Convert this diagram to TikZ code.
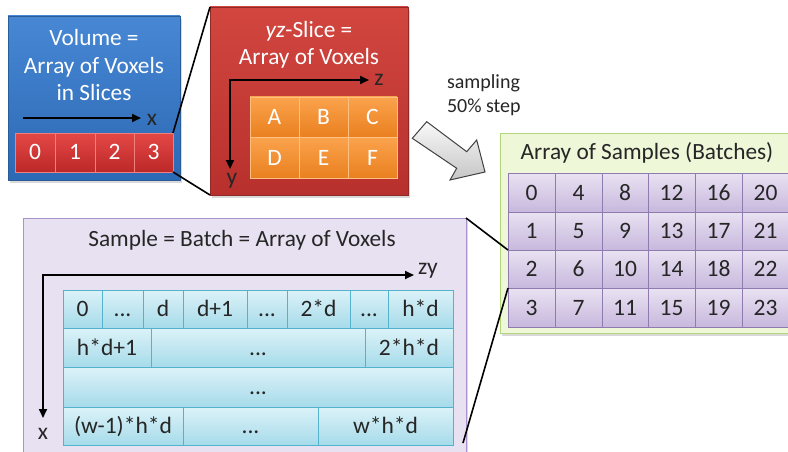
\documentclass[tikz,border=0pt]{standalone}
\usepackage{fontspec}
\setmainfont{Carlito}
\usetikzlibrary{arrows.meta,shadows}
\definecolor{volTop}{HTML}{4787D4}
\definecolor{volBot}{HTML}{2C69B4}
\definecolor{volLine}{HTML}{2A5C98}
\definecolor{redTop}{HTML}{D2463F}
\definecolor{redBot}{HTML}{B8302D}
\definecolor{redLine}{HTML}{8E2B29}
\definecolor{rcTop}{HTML}{E44846}
\definecolor{rcBot}{HTML}{BC2828}
\definecolor{rcLine}{HTML}{F08080}
\definecolor{orTop}{HTML}{FBA34D}
\definecolor{orBot}{HTML}{E9801F}
\definecolor{orLine}{HTML}{FFC080}
\definecolor{grFill}{HTML}{EEF7D8}
\definecolor{grLine}{HTML}{B4D67A}
\definecolor{puTop}{HTML}{E9E2F2}
\definecolor{puBot}{HTML}{C7B8DD}
\definecolor{puLine}{HTML}{8F7BB0}
\definecolor{baFill}{HTML}{E8E1F1}
\definecolor{baLine}{HTML}{A894C8}
\definecolor{cyTop}{HTML}{DCF2F8}
\definecolor{cyBot}{HTML}{A6DBEA}
\definecolor{cyLine}{HTML}{55B2CC}
\newcommand{\bigtxt}{\fontsize{23.3}{27.5}\selectfont}
\newcommand{\celltxt}{\fontsize{23.5}{26}\selectfont}
\newcommand{\cellbox}[7]{\node[#7, minimum width=#4pt-#2pt, minimum height=#5pt-#3pt, anchor=north west] (#1) at (#2,#3) {#6};}
\tikzset{
  every node/.style={inner sep=0pt, outer sep=0pt},
  shad/.style={drop shadow={shadow xshift=2pt,shadow yshift=-3pt,opacity=0.3}},
  volbox/.style={draw=volLine, line width=0.6pt, top color=volTop, bottom color=volBot, shad},
  slicebox/.style={draw=redLine, line width=0.6pt, top color=redTop, bottom color=redBot, shad},
  greenbox/.style={draw=grLine, line width=1pt, fill=grFill, shad},
  batchbox/.style={draw=baLine, line width=1pt, fill=baFill, shad},
  cellbase/.style={font=\celltxt, text height=15pt, text depth=0pt},
  redcell/.style={cellbase, draw=rcLine, line width=0.5pt, top color=rcTop, bottom color=rcBot, text=white},
  orcell/.style={cellbase, draw=orLine, line width=0.5pt, top color=orTop, bottom color=orBot, text=white},
  purcell/.style={cellbase, draw=puLine, line width=0.6pt, top color=puTop, bottom color=puBot, text=black!85},
  cycell/.style={cellbase, draw=cyLine, line width=0.6pt, top color=cyTop, bottom color=cyBot, text=black!85},
  wtxt/.style={text=white, font=\bigtxt, align=center},
  btxt/.style={text=black!85, font=\bigtxt, align=center},
  axlbl/.style={text=black!85, font=\celltxt},
  axis/.style={line width=1.8pt, black},
  conn/.style={line width=1.6pt, black},
  bigarrow/.style={draw=black!75, line width=1pt, top color=gray!5, bottom color=gray!45}
}
\begin{document}
\begin{tikzpicture}[x=1pt,y=-1pt]
\useasboundingbox (0,0) rectangle (788,452);

% ---------- Volume box ----------
\node[volbox, minimum width=172pt, minimum height=164pt, anchor=north west] (vol) at (8,16) {};
\node[wtxt] (voltitle) at (94,65) {Volume =\\Array of Voxels\\in Slices};
\coordinate (xa) at (23,118);
\coordinate (xb) at (141,118);
\draw[axis, -{Triangle[length=9pt,width=8pt]}] (xa) -- (xb);
\node[axlbl] (xlbl) at (152,120) {x};
\cellbox{c0}{15}{133}{55}{172}{0}{redcell}
\cellbox{c1}{55}{133}{95}{172}{1}{redcell}
\cellbox{c2}{95}{133}{134}{172}{2}{redcell}
\cellbox{c3}{134}{133}{173}{172}{3}{redcell}

% ---------- yz-Slice box ----------
\node[slicebox, minimum width=198pt, minimum height=188pt, anchor=north west] (yz) at (210,7) {};
\node[wtxt] (yztitle) at (309,45) {\textit{yz}-Slice =\\Array of Voxels};
\coordinate (yzo) at (230,80);
\coordinate (zend) at (369,80);
\coordinate (yend) at (230,169);
\draw[axis, {Triangle[length=9pt,width=8pt]}-{Triangle[length=9pt,width=8pt]}] (zend) -- (yzo) -- (yend);
\node[axlbl] (zlbl) at (379,80) {z};
\node[axlbl] (ylbl) at (232,181) {y};
\cellbox{oA}{250}{97}{299}{137}{A}{orcell}
\cellbox{oB}{299}{97}{348}{137}{B}{orcell}
\cellbox{oC}{348}{97}{397}{137}{C}{orcell}
\cellbox{oD}{250}{137}{299}{178}{D}{orcell}
\cellbox{oE}{299}{137}{348}{178}{E}{orcell}
\cellbox{oF}{348}{137}{397}{178}{F}{orcell}

% ---------- sampling arrow ----------
\node[text=black!85, font=\fontsize{20}{24}\selectfont, align=left, anchor=west] (samp) at (447,95) {sampling\\50\% step};
\path[bigarrow] (426.7,121.7) -- (466.7,151.7) -- (476.7,140) -- (485,172) -- (450,180) -- (456.7,168.3) -- (412.3,138.3) -- cycle;

% ---------- Array of Samples ----------
\node[greenbox, minimum width=300pt, minimum height=200pt, anchor=north west] (samples) at (500,133) {};
\node[btxt] (samptitle) at (647,153) {Array of Samples (Batches)};
\foreach \c/\xa/\xb in {0/508/555, 1/555/602, 2/602/648, 3/648/695, 4/695/742, 5/742/789}{
  \foreach \r/\ya/\yb in {0/173/212, 1/212/250, 2/250/288, 3/288/327}{
    \pgfmathtruncatemacro\n{4*\c+\r}
    \cellbox{s\n}{\xa}{\ya}{\xb}{\yb}{\n}{purcell}
  }
}

% ---------- Sample = Batch ----------
\node[batchbox, minimum width=443pt, minimum height=245pt, anchor=north west] (batch) at (23,218) {};
\node[btxt] (batchtitle) at (242,240) {Sample = Batch = Array of Voxels};
\coordinate (bo) at (43,275);
\coordinate (zyend) at (414,275);
\coordinate (bxend) at (43,418);
\draw[axis, {Triangle[length=9pt,width=8pt]}-{Triangle[length=9pt,width=8pt]}] (zyend) -- (bo) -- (bxend);
\node[axlbl] (zylbl) at (428,271) {zy};
\node[axlbl] (bxlbl) at (43,434) {x};

\cellbox{b11}{63}{290}{102}{328}{0}{cycell}
\cellbox{b12}{102}{290}{143}{328}{...}{cycell}
\cellbox{b13}{143}{290}{183}{328}{d}{cycell}
\cellbox{b14}{183}{290}{247}{328}{d+1}{cycell}
\cellbox{b15}{247}{290}{287}{328}{...}{cycell}
\cellbox{b16}{287}{290}{350}{328}{2*d}{cycell}
\cellbox{b17}{350}{290}{388}{328}{...}{cycell}
\cellbox{b18}{388}{290}{453}{328}{h*d}{cycell}
\cellbox{b21}{63}{328}{151}{367}{h*d+1}{cycell}
\cellbox{b22}{151}{328}{365}{367}{...}{cycell}
\cellbox{b23}{365}{328}{453}{367}{2*h*d}{cycell}
\cellbox{b31}{63}{367}{453}{407}{...}{cycell}
\cellbox{b41}{63}{407}{183}{445}{(w-1)*h*d}{cycell}
\cellbox{b42}{183}{407}{318}{445}{...}{cycell}
\cellbox{b43}{318}{407}{453}{445}{w*h*d}{cycell}

% ---------- connectors ----------
\draw[conn] (c3.north east) -- (yz.north west);
\draw[conn] (c3.south east) -- (yz.south west);
\draw[conn] (batch.north east) -- (s2.north west);
\coordinate (bend) at (463,443);
\draw[conn] (bend) -- (s2.south west);
\end{tikzpicture}
\end{document}
